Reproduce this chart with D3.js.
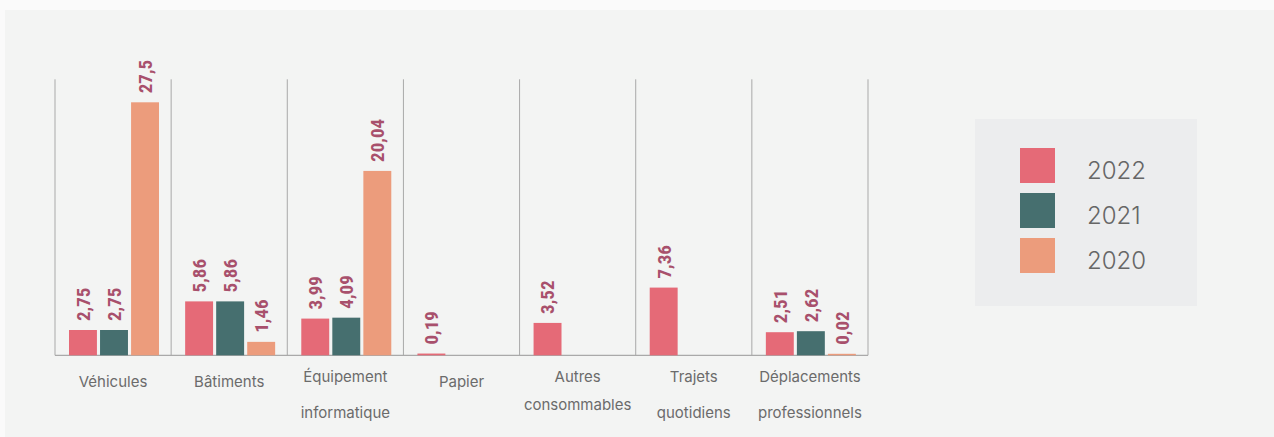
<!DOCTYPE html>
<html><head><meta charset="utf-8">
<script src="https://cdn.jsdelivr.net/npm/d3@7/dist/d3.min.js"></script>
<style>
html,body{margin:0;padding:0;background:#fafafa;}
svg{display:block;}
</style></head>
<body>
<svg id="c" width="1274" height="437"></svg>
<script>
const categories = [["Véhicules"],["Bâtiments"],["Équipement","informatique"],["Papier"],["Autres","consommables"],["Trajets","quotidiens"],["Déplacements","professionnels"]];
const years = ["2022","2021","2020"];
const values2022 = [2.75, 5.86, 3.99, 0.19, 3.52, 7.36, 2.51];
const values2021 = [2.75, 5.86, 4.09, 0, 0, 0, 2.62];
const values2020 = [27.5, 1.46, 20.04, 0, 0, 0, 0.02];
const colors = ["#e56a77", "#466f6f", "#ec9c7c"];

(function(){
const series = [values2022, values2021, values2020];
const svg = d3.select("#c");
svg.append("rect").attr("x",5).attr("y",10).attr("width",1269).attr("height",427).attr("fill","#f3f4f3");

const pLeft = 55, pRight = 868, pTop = 79.3, base = 355.3;
const x0 = d3.scaleBand().domain(d3.range(categories.length)).range([pLeft, pRight]).paddingInner(0).paddingOuter(0);
const x1 = d3.scaleBand().domain(d3.range(years.length)).range([14, 14 + 90]).paddingInner(0.1);
const y = d3.scaleLinear().domain([0, 30]).range([base, pTop]);

const seps = d3.range(categories.length + 1).map(i => i < categories.length ? x0(i) : pRight);
svg.selectAll("line.sep").data(seps).enter().append("line")
  .attr("x1", d => d).attr("x2", d => d).attr("y1", pTop).attr("y2", base)
  .attr("stroke", "#a9a9a9").attr("stroke-width", 1);
svg.append("line").attr("x1", pLeft).attr("x2", pRight).attr("y1", base).attr("y2", base)
  .attr("stroke", "#a9a9a9").attr("stroke-width", 1.3);

const bw = x1.bandwidth();
const data = [];
categories.forEach((c, i) => series.forEach((s, j) => { if (s[i] > 0) data.push({i, j, v: s[i]}); }));

const g = svg.append("g");
g.selectAll("rect.bar").data(data).enter().append("rect")
  .attr("x", d => x0(d.i) + x1(d.j))
  .attr("y", d => Math.min(y(d.v), base - 1.5))
  .attr("width", bw)
  .attr("height", d => Math.max(base - y(d.v), 1.5))
  .attr("fill", d => colors[d.j]);

const fmt = v => String(v).replace(".", ",");
g.selectAll("text.lbl").data(data).enter().append("text")
  .attr("transform", d => `translate(${x0(d.i) + x1(d.j) + bw/2},${Math.min(y(d.v), base - 1.5) - 9}) rotate(-90)`)
  .attr("dy", "0.36em")
  .attr("text-anchor", "start")
  .attr("font-family", "'Roboto Condensed','Liberation Sans Narrow','DejaVu Sans Condensed',sans-serif")
  .attr("font-weight", "bold")
  .attr("font-size", 19)
  .attr("fill", "#a8506c")
  .text(d => fmt(d.v));

categories.forEach((c, i) => {
  const cx = x0(i) + x0.bandwidth()/2;
  const ys = c.length === 1 ? [387] : (i === 4 ? [382, 410] : [382, 418]);
  c.forEach((t, k) => {
    svg.append("text").attr("x", cx).attr("y", ys[k]).attr("text-anchor", "middle")
      .attr("font-family", "Inter, 'Noto Sans', sans-serif").attr("font-size", 15)
      .attr("fill", "#6b6b6b").text(t);
  });
});

svg.append("rect").attr("x", 975).attr("y", 119).attr("width", 222).attr("height", 187).attr("fill", "#ecedee");
const ly = d3.scalePoint().domain(years).range([148, 238]);
years.forEach((yr, j) => {
  svg.append("rect").attr("x", 1020).attr("y", ly(yr)).attr("width", 35).attr("height", 35).attr("fill", colors[j]);
  svg.append("text").attr("x", 1087).attr("y", ly(yr) + 31).attr("font-family", "Inter, 'Noto Sans', sans-serif")
    .attr("font-size", 24).attr("font-weight", 300).attr("fill", "#666").text(yr);
});
})();
</script>
</body></html>
